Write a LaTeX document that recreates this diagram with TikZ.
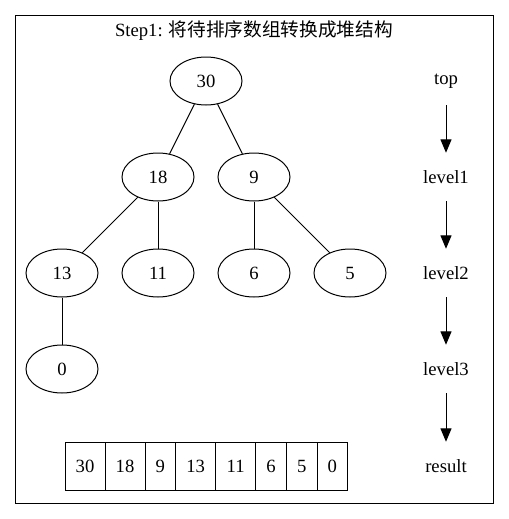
\documentclass[tikz,border=0pt]{standalone}
\usepackage{fontspec}
\setmainfont{Liberation Serif}
\newfontfamily\cjk{Noto Sans CJK SC}
\usetikzlibrary{arrows.meta,shapes.geometric}
\begin{document}
\begin{tikzpicture}[x=0.75pt,y=-0.75pt,
  every node/.style={font=\fontsize{14pt}{16pt}\selectfont},
  tnode/.style={draw,ellipse,line width=0.75pt,minimum width=54pt,minimum height=36pt,inner sep=0pt},
  lab/.style={minimum height=36pt,inner sep=0pt},
  cell/.style={draw,line width=0.75pt,minimum height=36pt,inner sep=0pt,outer sep=0pt,anchor=west},
  wide/.style={cell,minimum width=30pt},
  narrow/.style={cell,minimum width=23pt},
  edge/.style={line width=0.75pt},
  flow/.style={line width=0.75pt,-{Triangle[length=10pt,width=8.25pt]}}]
\useasboundingbox (0,0) rectangle (509,519);
\draw[line width=0.75pt] (15.5,15.5) rectangle (493,503);
\node (title) at (254,31) {Step1: {\cjk 将待排序数组转换成堆结构}};
\node[tnode] (n30) at (206,81) {30};
\node[tnode] (n18) at (158,177) {18};
\node[tnode] (n9) at (254,177) {9};
\node[tnode] (n13) at (62,273) {13};
\node[tnode] (n11) at (158,273) {11};
\node[tnode] (n6) at (254,273) {6};
\node[tnode] (n5) at (350,273) {5};
\node[tnode] (n0) at (62,369) {0};
\draw[edge] (n30) -- (n18);
\draw[edge] (n30) -- (n9);
\draw[edge] (n18) -- (n13);
\draw[edge] (n18) -- (n11);
\draw[edge] (n9) -- (n6);
\draw[edge] (n9) -- (n5);
\draw[edge] (n13) -- (n0);
\node[lab] (top) at (446,81) {top};
\node[lab] (l1) at (446,177) {level1};
\node[lab] (l2) at (446,273) {level2};
\node[lab] (l3) at (446,369) {level3};
\node[lab] (res) at (446,466) {result};
\draw[flow] (top.south) -- (l1.north);
\draw[flow] (l1.south) -- (l2.north);
\draw[flow] (l2.south) -- (l3.north);
\draw[flow] (l3.south) -- (res.north);
\node[wide] (c1) at (65,466) {30};
\node[wide] (c2) at (c1.east) {18};
\node[narrow] (c3) at (c2.east) {9};
\node[wide] (c4) at (c3.east) {13};
\node[wide] (c5) at (c4.east) {11};
\node[narrow] (c6) at (c5.east) {6};
\node[narrow] (c7) at (c6.east) {5};
\node[narrow] (c8) at (c7.east) {0};
\end{tikzpicture}
\end{document}
